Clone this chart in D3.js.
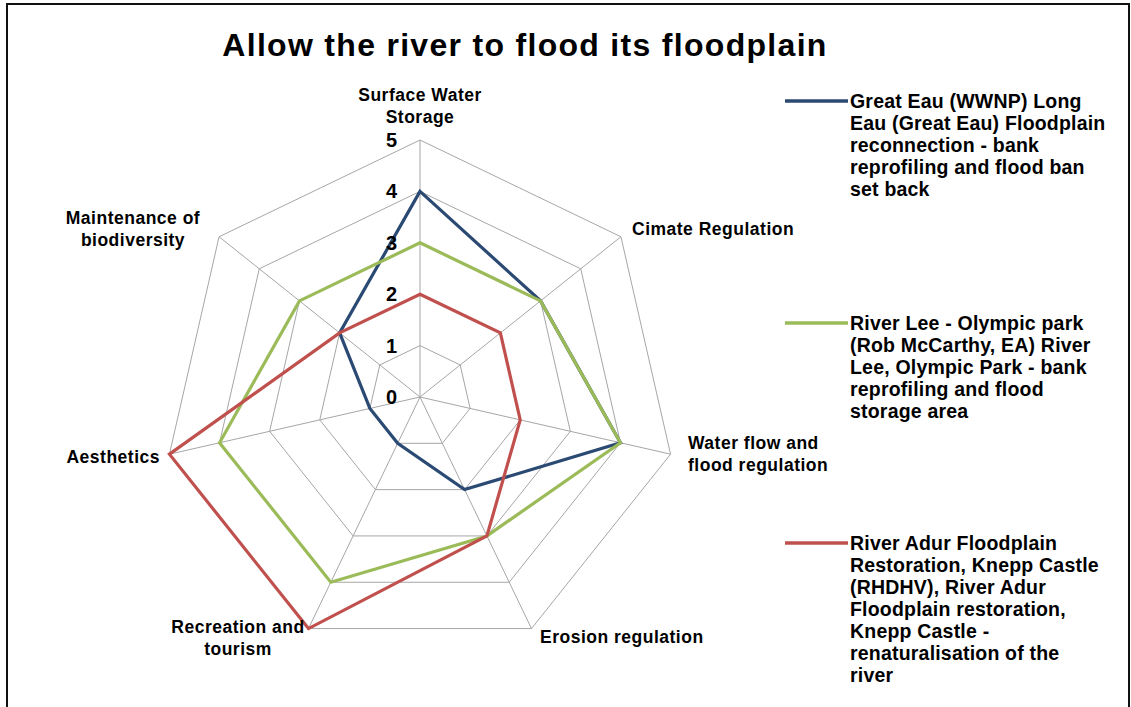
<!DOCTYPE html>
<html>
<head>
<meta charset="utf-8">
<script src="https://cdn.jsdelivr.net/npm/d3@7/dist/d3.min.js"></script>
<style>
  html, body { margin: 0; padding: 0; background: #fff; }
  svg { display: block; font-family: "Liberation Sans", Arial, sans-serif; }
</style>
</head>
<body>
<svg id="chart" width="1131" height="707"></svg>
<script>
// Radar axes (clockwise from the top)
const axes = [
  ["Surface Water", "Storage"],
  ["Cimate Regulation"],
  ["Water flow and", "flood regulation"],
  ["Erosion regulation"],
  ["Recreation and", "tourism"],
  ["Aesthetics"],
  ["Maintenance of", "biodiversity"]
];

// Scores per scheme, one per axis
const greatEau = [4, 3, 4, 2, 1, 1, 2];
const riverLee = [3, 3, 4, 3, 4, 4, 3];
const riverAdur = [2, 2, 2, 3, 5, 5, 2];

const seriesNames = [
  ["Great Eau (WWNP) Long", "Eau (Great Eau) Floodplain", "reconnection - bank", "reprofiling and flood ban", "set back"],
  ["River Lee - Olympic park", "(Rob McCarthy, EA) River", "Lee, Olympic Park - bank", "reprofiling and flood", "storage area"],
  ["River Adur Floodplain", "Restoration, Knepp Castle", "(RHDHV), River Adur", "Floodplain restoration,", "Knepp Castle -", "renaturalisation of the", "river"]
];
const seriesColors = ["#2b4a73", "#9bbb59", "#c0504d"];
const tickValues = [0, 1, 2, 3, 4, 5];

const svg = d3.select("#chart");

// frame
svg.append("path")
  .attr("d", "M7,720 V4 H1129 V720")
  .attr("fill", "none").attr("stroke", "#111").attr("stroke-width", 2);

svg.append("text")
  .attr("x", 525).attr("y", 56)
  .attr("text-anchor", "middle")
  .attr("font-size", 32).attr("font-weight", "bold")
  .attr("letter-spacing", 1.3)
  .attr("fill", "#000")
  .text("Allow the river to flood its floodplain");

const cx = 420, cy = 397, R = 257;
const r = d3.scaleLinear().domain([0, 5]).range([0, R]);
const n = axes.length;
const angle = d3.scaleLinear().domain([0, n]).range([0, 2 * Math.PI]);
const pt = (i, v) => {
  const a = angle(i);
  return [cx + r(v) * Math.sin(a), cy - r(v) * Math.cos(a)];
};

const g = svg.append("g");

// grid polygons
tickValues.filter(t => t > 0).forEach(t => {
  g.append("path")
    .attr("d", d3.line()(d3.range(n).map(i => pt(i, t))) + "Z")
    .attr("fill", "none").attr("stroke", "#a6a6a6").attr("stroke-width", 1);
});
// spokes
d3.range(n).forEach(i => {
  const p = pt(i, 5);
  g.append("line")
    .attr("x1", cx).attr("y1", cy).attr("x2", p[0]).attr("y2", p[1])
    .attr("stroke", "#a6a6a6").attr("stroke-width", 1);
});

// series lines
[greatEau, riverLee, riverAdur].forEach((vals, s) => {
  g.append("path")
    .attr("d", d3.line()(vals.map((v, i) => pt(i, v))) + "Z")
    .attr("fill", "none")
    .attr("stroke", seriesColors[s])
    .attr("stroke-width", 3.2)
    .attr("stroke-linejoin", "miter");
});

// value ticks along the top spoke
tickValues.forEach(t => {
  g.append("text")
    .attr("x", cx - 23).attr("y", cy - r(t) + 7)
    .attr("text-anchor", "end")
    .attr("font-size", 20).attr("font-weight", "bold")
    .attr("fill", "#000")
    .text(t);
});

// axis labels
const labelPos = [
  { x: 420, y: 101, anchor: "middle" },
  { x: 632, y: 235, anchor: "start" },
  { x: 688, y: 449, anchor: "start" },
  { x: 540, y: 643, anchor: "start" },
  { x: 238, y: 633, anchor: "middle" },
  { x: 160, y: 463, anchor: "end" },
  { x: 133, y: 224, anchor: "middle" }
];
axes.forEach((lines, i) => {
  const t = g.append("text")
    .attr("font-size", 17.5).attr("font-weight", "bold").attr("fill", "#000")
    .attr("letter-spacing", 0.5)
    .attr("text-anchor", labelPos[i].anchor);
  lines.forEach((ln, k) => {
    t.append("tspan").attr("x", labelPos[i].x).attr("y", labelPos[i].y + k * 22).text(ln);
  });
});

// legend
const legendTop = [101, 323, 543];
const lg = svg.append("g");
seriesNames.forEach((lines, s) => {
  lg.append("line")
    .attr("x1", 785).attr("x2", 848)
    .attr("y1", legendTop[s]).attr("y2", legendTop[s])
    .attr("stroke", seriesColors[s]).attr("stroke-width", 3.5);
  const t = lg.append("text")
    .attr("font-size", 19.5).attr("font-weight", "bold").attr("fill", "#000")
    .attr("letter-spacing", 0.2);
  lines.forEach((ln, k) => {
    t.append("tspan").attr("x", 850).attr("y", legendTop[s] + 7 + k * 22).text(ln);
  });
});
</script>
</body>
</html>
